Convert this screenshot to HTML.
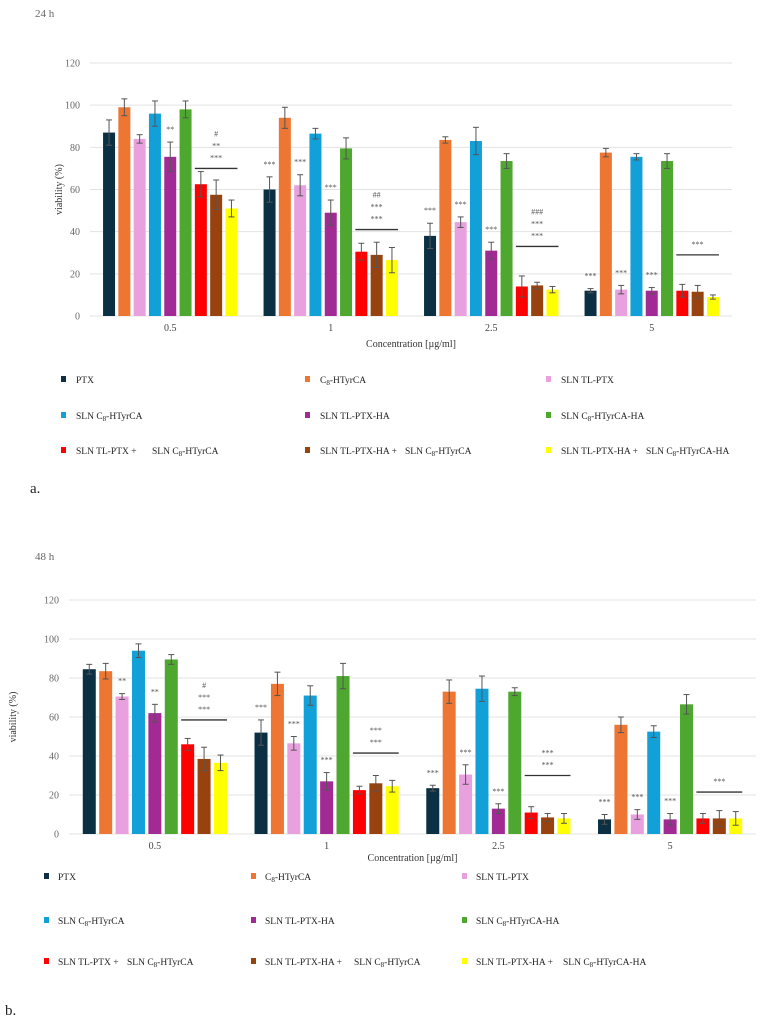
<!DOCTYPE html>
<html><head><meta charset="utf-8"><style>
body{margin:0;background:#fff;width:763px;height:1026px;overflow:hidden;font-family:"Liberation Serif",serif}
svg{position:absolute;left:0;top:0}
</style></head><body>
<svg id="s" width="763" height="1026" font-family="Liberation Serif, serif">
<text x="35" y="17" font-size="11" fill="#666">24 h</text>
<text x="35" y="560" font-size="11" fill="#666">48 h</text>
<text x="30" y="493" font-size="15" fill="#222">a.</text>
<text x="5" y="1015" font-size="15" fill="#222">b.</text>
</svg>
<script>
const categories=["0.5","1","2.5","5"];
const seriesNames=["PTX","C8-HTyrCA","SLN TL-PTX","SLN C8-HTyrCA","SLN TL-PTX-HA","SLN C8-HTyrCA-HA","SLN TL-PTX +|SLN C8-HTyrCA","SLN TL-PTX-HA +|SLN C8-HTyrCA","SLN TL-PTX-HA +|SLN C8-HTyrCA-HA"];
const colors=["#0b3044","#ed7632","#e8a0df","#11a0d8","#a22a95","#4ea72e","#ff0000","#98420f","#ffff00"];
const yTicks=[0,20,40,60,80,100,120];
const valuesA=[[87,99,84,96,75.5,98,62.5,57.5,51],[60,94,62,86.5,49,79.5,30.5,29,26.5],[38,83.5,44.5,83,31,73.5,14,14.5,12.5],[12,77.5,12.5,75.5,12,73.5,12,11.5,9]];
const errA=[[6,4,2,6,7,4,6,7,4],[6,5,5,2.5,6,5,4,6,6],[6,1.5,2.5,6.5,4,3.5,5,1.5,1.5],[1,2,2,1.5,1.5,3.5,3,3,1]];
const starsA=[["","","","","**","","","",""],["***","","***","","***","","","",""],["***","","***","","***","","","",""],["***","","***","","***","","","",""]];
const bracketA=[70,41,33,29];
const bracketLabelsA=[["#","**","***"],["##","***","***"],["###","***","***"],["***"]];
const valuesB=[[84.5,83.5,70.5,94,62,89.5,46,38.5,36.5],[52,77,46.5,71,27,81,22.5,26,24.5],[23.5,73,30.5,74.5,13,73,11,8.5,8],[7.5,56,10,52.5,7.5,66.5,8,8,8]];
const errB=[[2.5,4,1.5,3.5,4.5,2.5,3,6,4],[6.5,6,3.5,5,4.5,6.5,2,4,3],[1.5,6,5,6.5,2.5,2,3,2,2.5],[2.5,4,2.5,3,3,5,2.5,4,3.5]];
const starsB=[["","","**","","**","","","",""],["***","","***","","***","","","",""],["***","","***","","***","","","",""],["***","","***","","***","","","",""]];
const bracketB=[58.5,41.5,30,21.5];
const bracketLabelsB=[["#","***","***"],["***","***"],["***","***"],["***"]];
const NS="http://www.w3.org/2000/svg";
const svg=document.getElementById('s');
function mk(t,a,p){const e=document.createElementNS(NS,t);for(const k in a)e.setAttribute(k,a[k]);(p||svg).appendChild(e);return e;}
function label(str,x,y,g){
 const t=mk('text',{x:x,y:y,'font-size':9.5,fill:'#222'},g);
 
 
 const parts=str.split('C8');
 parts.forEach((p,pi)=>{const sp=mk('tspan',{},t);sp.textContent=p;
  if(pi<parts.length-1){const a=mk('tspan',{},t);a.textContent='C';const b=mk('tspan',{'font-size':7,dy:2},t);b.textContent='8';const d=mk('tspan',{dy:-2},t);d.textContent='\u200b';}});
}
function chart(cfg){
 const g=mk('g',{});
 
 
 const y=v=>cfg.y0-(v/120)*(cfg.y0-cfg.y120);
 const gw=(cfg.x1-cfg.x0)/categories.length;
 const cx=i=>cfg.x0+gw*(i+0.5);
 const bx=(i,j)=>cx(i)+(j-4)*cfg.step-cfg.bw/2;
 yTicks.forEach(t=>{
  const l=mk('line',{x1:cfg.x0,x2:cfg.x1,y1:y(t),y2:y(t),stroke:'#e3e3e3','stroke-width':1},g);
  
  
  const tx=mk('text',{x:cfg.x0-10,y:y(t)+3.5,'font-size':10,fill:'#666','text-anchor':'end'},g);tx.textContent=t;
  
  
 });
 categories.forEach((c,i)=>{
  const tx=mk('text',{x:cx(i),y:cfg.y0+15,'font-size':10,fill:'#444','text-anchor':'middle'},g);tx.textContent=c;
  
  
  cfg.vals[i].forEach((v,j)=>{
   const r=mk('rect',{x:bx(i,j),y:y(v),width:cfg.bw,height:y(0)-y(v),fill:colors[j]},g);
   
   
   const e=cfg.err[i][j],m=bx(i,j)+cfg.bw/2;
   mk('line',{x1:m,x2:m,y1:y(v+e),y2:y(v-e),stroke:'#555','stroke-width':1},g);
   mk('line',{x1:m-3,x2:m+3,y1:y(v+e),y2:y(v+e),stroke:'#555','stroke-width':1},g);
   mk('line',{x1:m-3,x2:m+3,y1:y(v-e),y2:y(v-e),stroke:'#555','stroke-width':1},g);
   if(cfg.stars[i][j]){const s=mk('text',{x:m,y:y(v+e)-10,'font-size':8,fill:'#555','text-anchor':'middle'},g);s.textContent=cfg.stars[i][j];
    
    }
  });
  const bl=y(cfg.br[i]);
  const ln=mk('line',{x1:bx(i,6),x2:bx(i,8)+cfg.bw,y1:bl,y2:bl,stroke:'#333','stroke-width':1.3},g);
  
  
  const labs=cfg.bl[i];
  labs.forEach((t,k)=>{const s=mk('text',{x:bx(i,7)+cfg.bw/2,y:bl-8-(labs.length-1-k)*12,'font-size':8,fill:'#555','text-anchor':'middle'},g);s.textContent=t;
   
   });
 });
 const yt=mk('text',{transform:`translate(${cfg.yl},${(cfg.y0+cfg.y120)/2}) rotate(-90)`,'font-size':10,fill:'#333','text-anchor':'middle'},g);yt.textContent='viability (%)';
 
 
 const xt=mk('text',{x:(cfg.x0+cfg.x1)/2,y:cfg.xty,'font-size':10,fill:'#333','text-anchor':'middle'},g);xt.textContent='Concentration [µg/ml]';
 
 
 seriesNames.forEach((n,k)=>{
  const r=Math.floor(k/3),c=k%3;
  const lx=cfg.lx[c],ly=cfg.ly[r];
  const sq=mk('rect',{x:lx,y:ly-4,width:5,height:6,fill:colors[k]},g);
  
  
  const parts=n.split('|');
  label(parts[0],lx+cfg.tg,ly+3,g);
  if(parts[1])label(parts[1],cfg.l2[c],ly+3,g);
 });
}
chart({name:'chart-24h',x0:90,x1:732,y0:316,y120:63,step:15.3,bw:12,vals:valuesA,err:errA,stars:starsA,br:bracketA,bl:bracketLabelsA,yl:62,xty:347,lx:[61,305,546],tg:15,l2:[152,405,646],ly:[380,416,451]});
chart({name:'chart-48h',x0:69,x1:756,y0:834,y120:600,step:16.4,bw:13,vals:valuesB,err:errB,stars:starsB,br:bracketB,bl:bracketLabelsB,yl:16,xty:861,lx:[44,251,462],tg:14,l2:[127,354,563],ly:[877,921,962]});
</script>
</body></html>
